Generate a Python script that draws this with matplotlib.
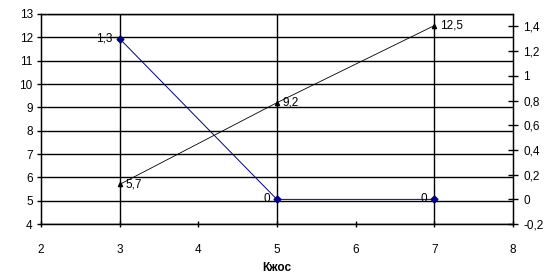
import matplotlib
matplotlib.use("Agg")
import matplotlib.pyplot as plt
from matplotlib.ticker import FuncFormatter

plt.rcParams['font.family'] = ['Liberation Sans', 'DejaVu Sans']
plt.rcParams['font.size'] = 8.5

# data
x = [3, 5, 7]
left_vals = [5.7, 9.2, 12.5]      # black series, left axis
right_vals = [1.3, 0, 0]          # navy series, right axis
left_labels = ['5,7', '9,2', '12,5']
right_labels = ['1,3', '0', '0']
x_ticks = [2, 3, 4, 5, 6, 7, 8]
left_ticks = list(range(4, 14))
right_ticks = [-0.2, 0, 0.2, 0.4, 0.6, 0.8, 1.0, 1.2, 1.4]

def comma(v, pos=None):
    s = ('%.1f' % v).rstrip('0').rstrip('.')
    if s == '-0':
        s = '0'
    return s.replace('.', ',')

fig = plt.figure(figsize=(5.52, 2.77), dpi=100)
ax = fig.add_axes([0.0743, 0.191, 0.8547, 0.7585])
ax.set_xlim(2, 8)
ax.set_ylim(4, 13)
ax.set_xticks(x_ticks)
ax.set_yticks(left_ticks)
for v in [3, 5, 7]:
    ax.axvline(v, color='black', lw=1, zorder=1)
for v in left_ticks:
    ax.axhline(v, color='black', lw=1, zorder=1)
for s in ax.spines.values():
    s.set_linewidth(1)
ax.tick_params(axis='both', direction='out', length=3, width=1, labelsize=8.5, pad=3)
ax.tick_params(axis='x', direction='inout', length=5, pad=12)

ax.plot(x, left_vals, color='black', lw=0.6, marker='^', ms=3, zorder=3)
for xi, yi, t in zip(x, left_vals, left_labels):
    ax.annotate(t, (xi, yi), xytext=(4, 0), textcoords='offset points',
                ha='left', va='center', fontsize=8.5)

ax2 = ax.twinx()
ax2.set_ylim(-0.2, 1.5)
ax2.set_yticks(right_ticks)
ax2.yaxis.set_major_formatter(FuncFormatter(comma))
ax2.tick_params(axis='y', direction='inout', length=7, width=1, labelsize=8.5, pad=4)
ax2.plot(x, right_vals, color='#000080', lw=0.7, marker='D', ms=3.5, zorder=3)
for xi, yi, t in zip(x, right_vals, right_labels):
    ax2.annotate(t, (xi, yi), xytext=(-5, 0), textcoords='offset points',
                 ha='right', va='center', fontsize=8.5)

ax.set_xlabel('Кжос', fontweight='bold', fontsize=8.5, labelpad=4)

fig.savefig('out.png', dpi=100)
